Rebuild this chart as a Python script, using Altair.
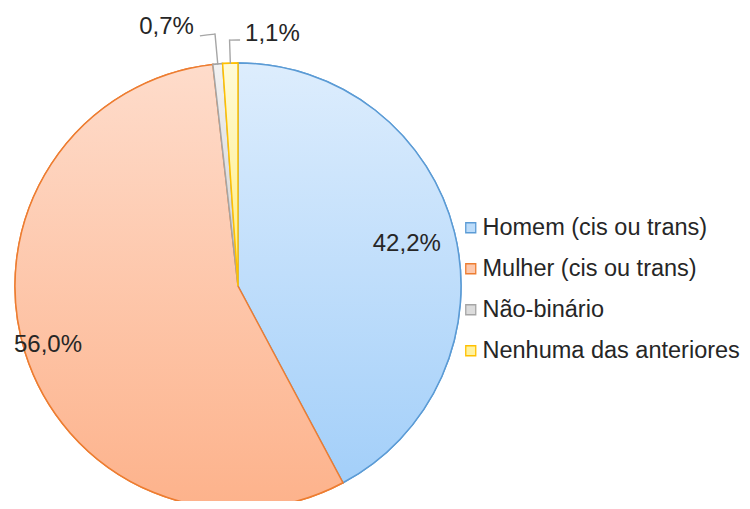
import altair as alt
import pandas as pd

categories = ["Homem (cis ou trans)", "Mulher (cis ou trans)", "Não-binário", "Nenhuma das anteriores"]
values = [42.2, 56.0, 0.7, 1.1]
labels = ["42,2%", "56,0%", "0,7%", "1,1%"]

fill_solid = ["#bcdcfa", "#fcc8ad", "#dcdcdc", "#fff2a0"]
border = ["#5b9bd5", "#ed7d31", "#a5a5a5", "#ffc000"]
grad_top = ["#ddedfd", "#fedccb", "#f2f2f2", "#fffbd9"]
grad_bot = ["#a3cff9", "#fdb28b", "#d0d0d0", "#ffec7a"]

df = pd.DataFrame({"cat": categories, "val": values, "label": labels, "idx": list(range(len(values)))})

CX, CY, R = 230, 278, 223
FONT = "Liberation Sans"
FS = 24

def grad(i):
    return {"gradient": "linear", "x1": 0, "y1": 0, "x2": 0, "y2": 1,
            "stops": [{"offset": 0, "color": grad_top[i]}, {"offset": 1, "color": grad_bot[i]}]}

base = alt.Chart(df)

color_scale = alt.Scale(domain=categories, range=fill_solid)
stroke_scale = alt.Scale(domain=categories, range=border)
leg = alt.Legend(title=None, orient="none", legendX=451, legendY=208, labelFontSize=23.5,
                 labelFont=FONT, labelColor="#262626", symbolType="square", symbolSize=100,
                 symbolStrokeWidth=1.3, rowPadding=16, labelOffset=0, padding=0, labelLimit=0)

pie_legend = base.mark_arc(radius=R, strokeWidth=1.5).encode(
    theta=alt.Theta("val:Q", stack=True),
    order=alt.Order("idx:Q"),
    fill=alt.Fill("cat:N", scale=color_scale, legend=leg, sort=categories),
    stroke=alt.Stroke("cat:N", scale=stroke_scale, legend=leg, sort=categories),
    x=alt.value(CX), y=alt.value(CY),
)

pie_grad = base.mark_arc(radius=R, strokeWidth=1.5).encode(
    theta=alt.Theta("val:Q", stack=True),
    order=alt.Order("idx:Q"),
    fill=alt.FillValue(value=grad(3), condition=[
        {"test": f"datum.cat === '{categories[0]}'", "value": grad(0)},
        {"test": f"datum.cat === '{categories[1]}'", "value": grad(1)},
        {"test": f"datum.cat === '{categories[2]}'", "value": grad(2)},
    ]),
    stroke=alt.Stroke("cat:N", scale=stroke_scale, legend=None, sort=categories),
    x=alt.value(CX), y=alt.value(CY),
)

angles = base.transform_window(
    cum="sum(val)", sort=[alt.SortField("idx")], frame=[None, 0]
).transform_joinaggregate(total="sum(val)").transform_calculate(
    mid="2*PI*(datum.cum - datum.val/2)/datum.total",
)

inner_text = angles.transform_filter("datum.val >= 5").transform_calculate(
    lrad=f"datum.cat === '{categories[0]}' ? 174 : 199"
).mark_text(fontSize=FS, font=FONT, color="#262626").encode(
    theta=alt.Theta("mid:Q", scale=None),
    radius=alt.Radius("lrad:Q", scale=None),
    text=alt.Text("label:N"),
    x=alt.value(CX), y=alt.value(CY),
)

small = angles.transform_calculate(
    lr="datum.cat === 'Não-binário' ? 253 : 246",
    off="datum.cat === 'Não-binário' ? -0.06 : 0.043",
).transform_calculate(
    mid2="datum.mid + 0.0004",
    tend="datum.mid + datum.off",
).transform_filter("datum.val < 5")

radial = small.mark_arc(stroke="#a6a6a6", strokeWidth=1.3, fillOpacity=0).encode(
    theta=alt.Theta("mid:Q", scale=None),
    theta2=alt.Theta2("mid2:Q"),
    radius=alt.Radius("lr:Q", scale=None),
    radius2=alt.value(R),
    x=alt.value(CX), y=alt.value(CY),
)

tangent = small.mark_arc(stroke="#a6a6a6", strokeWidth=1.3, fillOpacity=0).encode(
    theta=alt.Theta("mid:Q", scale=None),
    theta2=alt.Theta2("tend:Q"),
    radius=alt.Radius("lr:Q", scale=None),
    radius2=alt.Radius2("lr:Q"),
    x=alt.value(CX), y=alt.value(CY),
)

txt_left = small.transform_filter("datum.off < 0").mark_text(
    fontSize=FS, font=FONT, color="#262626", align="right", baseline="middle", dx=-6, dy=-9
).encode(
    theta=alt.Theta("tend:Q", scale=None),
    radius=alt.Radius("lr:Q", scale=None),
    text="label:N",
    x=alt.value(CX), y=alt.value(CY),
)

txt_right = small.transform_filter("datum.off > 0").mark_text(
    fontSize=FS, font=FONT, color="#262626", align="left", baseline="middle", dx=5, dy=-6
).encode(
    theta=alt.Theta("tend:Q", scale=None),
    radius=alt.Radius("lr:Q", scale=None),
    text="label:N",
    x=alt.value(CX), y=alt.value(CY),
)

chart = alt.layer(pie_legend, pie_grad, inner_text, radial, tangent, txt_left, txt_right).properties(
    width=734, height=493, padding=0, background="white", autosize=alt.AutoSizeParams(type="none")
).configure_view(stroke=None)

chart.save("out.html", embed_options={"renderer": "svg", "actions": False})
